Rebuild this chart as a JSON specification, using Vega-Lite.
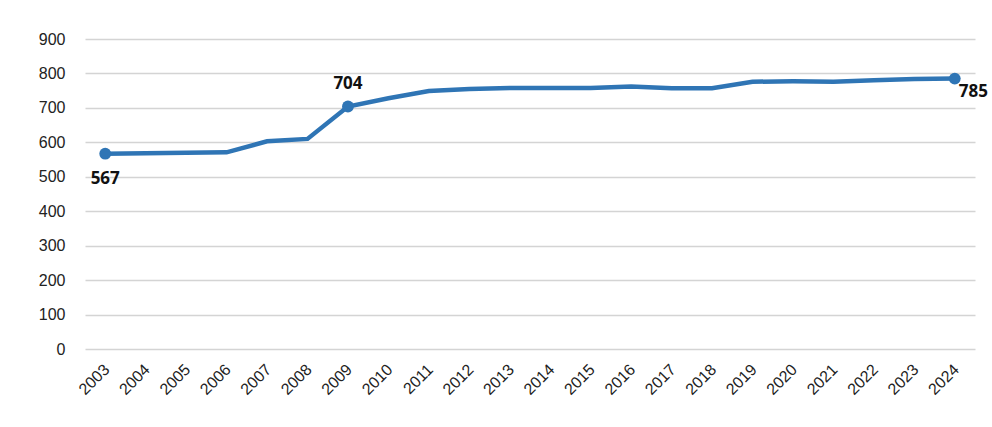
{
  "$schema": "https://vega.github.io/schema/vega-lite/v6.json",
  "width": 890,
  "height": 310,
  "autosize": {"type": "none"},
  "padding": {"left": 85, "top": 39, "right": 17, "bottom": 78},
  "background": "white",
  "config": {"view": {"stroke": null}, "font": "Open Sans"},
  "data": {"values": [
    {"year": "2003", "value": 567, "label": "567"},
    {"year": "2004", "value": 568},
    {"year": "2005", "value": 570},
    {"year": "2006", "value": 571},
    {"year": "2007", "value": 603},
    {"year": "2008", "value": 610},
    {"year": "2009", "value": 704, "label": "704"},
    {"year": "2010", "value": 728},
    {"year": "2011", "value": 749},
    {"year": "2012", "value": 755},
    {"year": "2013", "value": 758},
    {"year": "2014", "value": 758},
    {"year": "2015", "value": 758},
    {"year": "2016", "value": 762},
    {"year": "2017", "value": 757},
    {"year": "2018", "value": 757},
    {"year": "2019", "value": 776},
    {"year": "2020", "value": 777},
    {"year": "2021", "value": 776},
    {"year": "2022", "value": 780},
    {"year": "2023", "value": 784},
    {"year": "2024", "value": 785, "label": "785"}
  ]},
  "encoding": {
    "x": {"field": "year", "type": "ordinal", "scale": {"type": "band", "paddingInner": 0, "paddingOuter": 0},
      "axis": {"title": null, "labelAngle": -45, "labelFontSize": 16, "labelColor": "#222", "domain": false, "ticks": false, "labelPadding": 12, "labelOffset": -4, "grid": false, "labelFont": "Liberation Sans"}},
    "y": {"field": "value", "type": "quantitative", "scale": {"domain": [0, 900]},
      "axis": {"title": null, "values": [0,100,200,300,400,500,600,700,800,900], "labelFontSize": 16, "labelColor": "#222", "domain": false, "ticks": false, "labelPadding": 20, "gridColor": "#d4d4d4", "gridWidth": 1.5, "labelFont": "Liberation Sans"}}
  },
  "layer": [
    {"mark": {"type": "line", "color": "#2f75b5", "strokeWidth": 4.5}},
    {"transform": [{"filter": "datum.label"}], "mark": {"type": "point", "filled": true, "color": "#2f75b5", "size": 140, "opacity": 1}},
    {"transform": [{"filter": "datum.year == '2003'"}], "mark": {"type": "text", "fontWeight": "bold", "fontSize": 17, "dy": 25, "color": "#111"}, "encoding": {"text": {"field": "label"}}},
    {"transform": [{"filter": "datum.year == '2009'"}], "mark": {"type": "text", "fontWeight": "bold", "fontSize": 17, "dy": -23, "color": "#111"}, "encoding": {"text": {"field": "label"}}},
    {"transform": [{"filter": "datum.year == '2024'"}], "mark": {"type": "text", "fontWeight": "bold", "fontSize": 17, "dy": 13, "dx": 4, "align": "left", "color": "#111"}, "encoding": {"text": {"field": "label"}}}
  ]
}
